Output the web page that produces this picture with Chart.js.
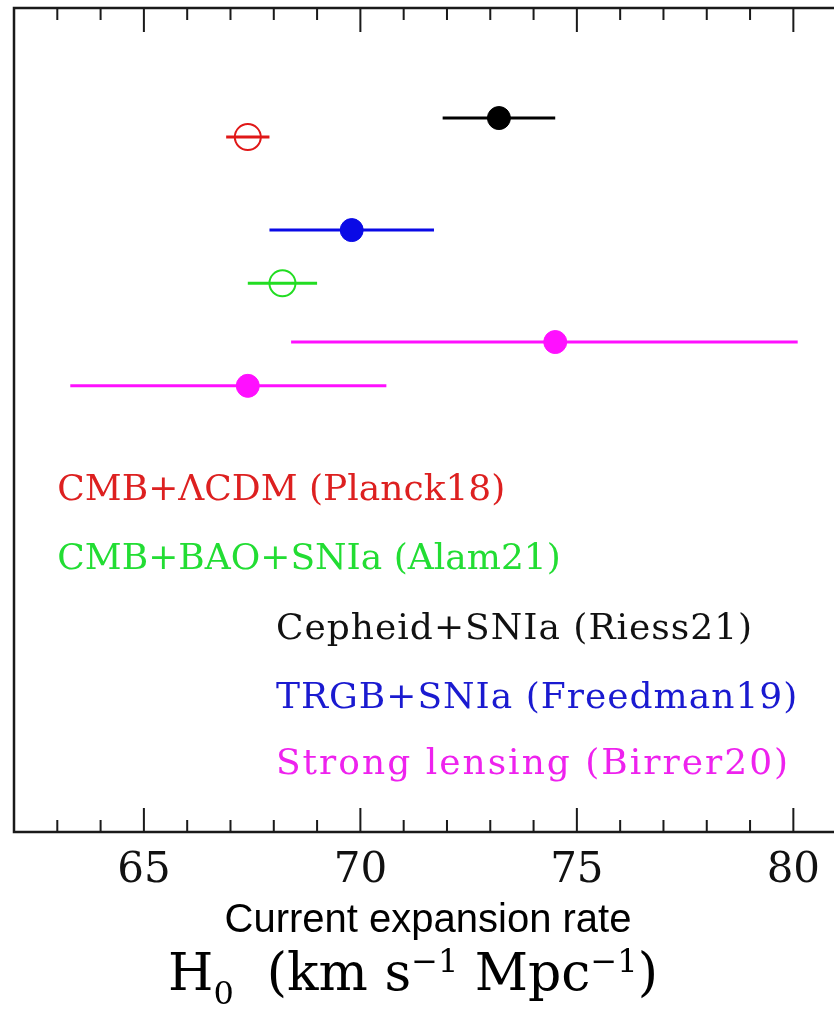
<!DOCTYPE html>
<html>
<head>
<meta charset="utf-8">
<script src="https://cdn.jsdelivr.net/npm/chart.js@4.4.1/dist/chart.umd.min.js"></script>
<style>
  html, body { margin: 0; padding: 0; background: #fff; }
  #h0Chart { display: block; }
</style>
</head>
<body>
<canvas id="h0Chart" width="834" height="1010"></canvas>
<script>
/*
 H0 measurements: value with asymmetric errors, one row per measurement
*/

// Measurements, top row first
var sources = ['Riess21', 'Planck18', 'Freedman19', 'Alam21', 'Birrer20 (TDCOSMO)', 'Birrer20 (TDCOSMO+SLACS)'];
var h0Values = [73.2, 67.4, 69.8, 68.2, 74.5, 67.4];
var errMinus = [1.3, 0.5, 1.9, 0.8, 6.1, 4.1];
var errPlus = [1.3, 0.5, 1.9, 0.8, 5.6, 3.2];
// vertical row of each measurement (arbitrary units, 0 = bottom axis)
var rowValues = [71.05, 69.16, 59.9, 54.6, 48.76, 44.4];
var markColors = ['#000000', '#e01818', '#0a0ae6', '#22dd22', '#ff10ff', '#ff10ff'];
var openMarks = [false, true, false, true, false, false];

// Legend texts drawn inside the plot
var legendTexts = ['CMB+\u039BCDM (Planck18)', 'CMB+BAO+SNIa (Alam21)', 'Cepheid+SNIa (Riess21)',
    'TRGB+SNIa (Freedman19)', 'Strong lensing (Birrer20)'];
var legendColors = ['#dd2020', '#22dd33', '#111111', '#1a1ad0', '#ee22ee'];

// Axis
var xMin = 62;
var xMax = 80.75;
var xTickValues = [62, 63, 64, 65, 66, 67, 68, 69, 70, 71, 72, 73, 74, 75, 76, 77, 78, 79, 80];
var xLabelStep = 5;
var xTitle = 'Current expansion rate';

function buildDatasets(){
    var sets = [];
    // error bars first so the circles sit on top
    for (var i = 0; i < h0Values.length; i++){
        sets.push({
            type: 'line',
            data: [
                {x: h0Values[i] - errMinus[i], y: rowValues[i]},
                {x: h0Values[i] + errPlus[i], y: rowValues[i]}
            ],
            borderColor: markColors[i],
            borderWidth: 3,
            pointRadius: 0,
            fill: false
        });
    }
    for (var j = 0; j < h0Values.length; j++){
        sets.push({
            type: 'scatter',
            label: sources[j],
            data: [{x: h0Values[j], y: rowValues[j]}],
            pointStyle: 'circle',
            pointRadius: openMarks[j] ? 13 : 11.5,
            pointBorderWidth: openMarks[j] ? 2 : 1,
            pointBorderColor: markColors[j],
            pointBackgroundColor: openMarks[j] ? 'rgba(0,0,0,0)' : markColors[j]
        });
    }
    return sets;
}

// Frame, inward ticks, legend text and axis titles
var framePlugin = {
    id: 'frame',
    afterDraw: function(chart){
        var ctx = chart.ctx;
        var area = chart.chartArea;
        var xs = chart.scales.x;
        var ys = chart.scales.y;

        ctx.save();
        ctx.strokeStyle = '#1a1a1a';
        ctx.lineWidth = 2.5;
        ctx.beginPath();
        ctx.moveTo(chart.width + 2, area.top);
        ctx.lineTo(area.left, area.top);
        ctx.lineTo(area.left, area.bottom);
        ctx.lineTo(chart.width + 2, area.bottom);
        ctx.stroke();

        ctx.lineWidth = 2;
        xs.ticks.forEach(function(t){
            if (t.value === xMin) return;
            var px = xs.getPixelForValue(t.value);
            var len = (t.value % xLabelStep === 0) ? 24 : 12;
            ctx.beginPath();
            ctx.moveTo(px, area.bottom);
            ctx.lineTo(px, area.bottom - len);
            ctx.moveTo(px, area.top);
            ctx.lineTo(px, area.top + len);
            ctx.stroke();
        });

        // legend rows: two rows start at x=63, the rest at x=68
        var legendX = [63, 63, 68.05, 68.05, 68.05];
        var legendY = [34.0, 27.1, 20.1, 13.3, 6.67];
        var legendSpacing = ['0px', '0px', '1px', '1px', '2px'];
        ctx.font = '36px "DejaVu Serif"';
        ctx.textBaseline = 'middle';
        ctx.textAlign = 'left';
        for (var i = 0; i < legendTexts.length; i++){
            ctx.fillStyle = legendColors[i];
            ctx.letterSpacing = legendSpacing[i];
            ctx.fillText(legendTexts[i], xs.getPixelForValue(legendX[i]), ys.getPixelForValue(legendY[i]));
        }
        ctx.letterSpacing = '0px';

        // x axis titles
        ctx.fillStyle = '#000';
        ctx.textAlign = 'center';
        ctx.font = '40px "Liberation Sans"';
        ctx.fillText(xTitle, 428, 921);

        // H0 (km s^-1 Mpc^-1)
        var big = '52px "DejaVu Serif"';
        var small = '32px "DejaVu Serif"';
        var parts = [
            {t: 'H', f: big, dy: 0},
            {t: '0', f: small, dy: 14},
            {t: '  (km s', f: big, dy: 0},
            {t: '\u22121', f: small, dy: -18},
            {t: ' Mpc', f: big, dy: 0},
            {t: '\u22121', f: small, dy: -18},
            {t: ')', f: big, dy: 0}
        ];
        var total = 0;
        parts.forEach(function(p){ ctx.font = p.f; p.w = ctx.measureText(p.t).width; total += p.w; });
        var x = 413 - total / 2;
        ctx.textAlign = 'left';
        ctx.textBaseline = 'alphabetic';
        parts.forEach(function(p){
            ctx.font = p.f;
            ctx.fillText(p.t, x, 990 + p.dy);
            x += p.w;
        });
        ctx.restore();
    }
};

function initializeChart(){
    var ctx = document.getElementById('h0Chart').getContext('2d');
    new Chart(ctx, {
        type: 'scatter',
        data: { datasets: buildDatasets() },
        options: {
            responsive: false,
            animation: false,
            layout: {
                autoPadding: false,
                padding: { top: 8, left: 12, right: 0, bottom: 0 }
            },
            plugins: { legend: { display: false }, tooltip: { enabled: false } },
            scales: {
                x: {
                    type: 'linear',
                    min: xMin,
                    max: xMax,
                    grid: { display: false, drawTicks: false },
                    border: { display: false },
                    ticks: {
                        autoSkip: false,
                        maxRotation: 0,
                        padding: 14,
                        color: '#111',
                        font: { family: '"DejaVu Serif"', size: 42 },
                        callback: function(v){ return (v % xLabelStep === 0) ? String(v) : ''; }
                    },
                    afterBuildTicks: function(scale){
                        scale.ticks = xTickValues.map(function(v){ return {value: v}; });
                    },
                    afterFit: function(scale){ scale.height = 178; }
                },
                y: {
                    display: false,
                    min: 0,
                    max: 82
                }
            }
        },
        plugins: [framePlugin]
    });
}

document.addEventListener('DOMContentLoaded', initializeChart);
</script>
</body>
</html>
